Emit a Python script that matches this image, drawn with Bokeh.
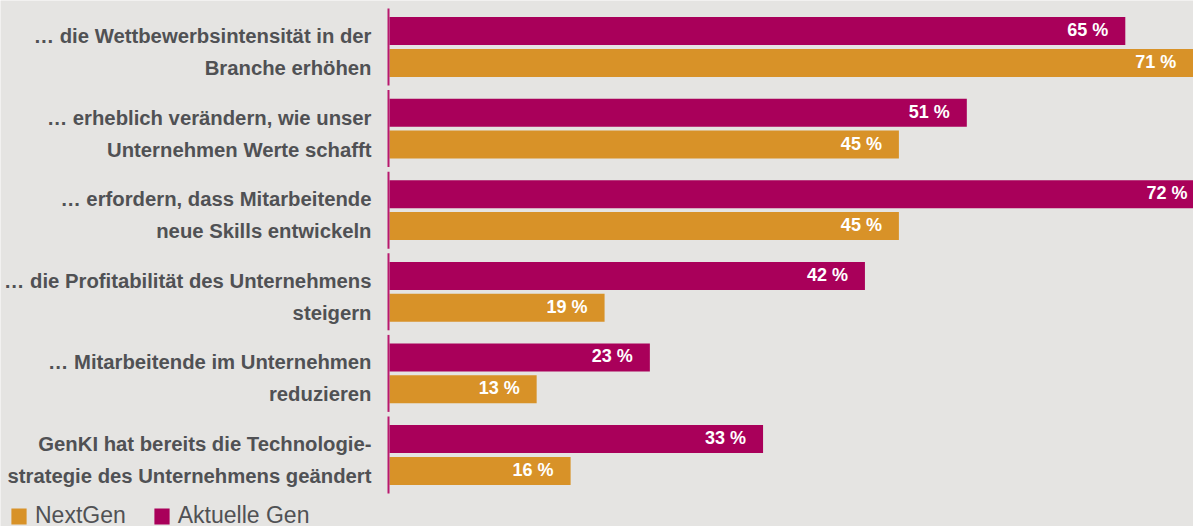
from bokeh.plotting import figure
from bokeh.models import Range1d, Legend, LegendItem, ColumnDataSource
from bokeh.core.properties import value
from bokeh.embed import file_html
from bokeh.resources import INLINE

categories = [
    "… die Wettbewerbsintensität in der\nBranche erhöhen",
    "… erheblich verändern, wie unser\nUnternehmen Werte schafft",
    "… erfordern, dass Mitarbeitende\nneue Skills entwickeln",
    "… die Profitabilität des Unternehmens\nsteigern",
    "… Mitarbeitende im Unternehmen\nreduzieren",
    "GenKI hat bereits die Technologie-\nstrategie des Unternehmens geändert",
]
aktuelle_gen = [65, 51, 72, 42, 23, 33]
next_gen = [71, 45, 45, 19, 13, 16]
series_names = ["NextGen", "Aktuelle Gen"]

BG = "#e5e4e2"
MAGENTA = "#a9005a"
ORANGE = "#d89228"
TEXT = "#505154"
FONT = "Liberation Sans"

W, H = 1193, 526
x0_px, px_per = 389.0, 11.32
group_px, group0_px = 81.6, 46.5

p = figure(width=W, height=H, output_backend="svg", toolbar_location=None,
           x_range=Range1d(-x0_px / px_per, (W - x0_px) / px_per),
           y_range=Range1d((H - group0_px) / group_px, -group0_px / group_px),
           min_border=0, min_border_left=0, min_border_right=0,
           min_border_top=0, min_border_bottom=0)
p.background_fill_color = BG
p.border_fill_color = BG
p.outline_line_color = None
p.xaxis.visible = False
p.yaxis.visible = False
p.xgrid.visible = False
p.ygrid.visible = False

n = len(categories)
idx = list(range(n))
off = 0.195
bar_h = 28 / group_px

src = ColumnDataSource(dict(
    y_a=[i - off for i in idx], y_n=[i + off for i in idx],
    a=aktuelle_gen, nx=next_gen,
    la=[f"{v} %" for v in aktuelle_gen], ln=[f"{v} %" for v in next_gen],
    l1=[c.split("\n")[0] for c in categories],
    l2=[c.split("\n")[1] for c in categories],
    seg_top=[i - 38.5 / group_px for i in idx],
    seg_bot=[i + 38.5 / group_px for i in idx],
    zero=[-1.0 / px_per for _ in idx],
))

r_a = p.hbar(y="y_a", right="a", left=0, height=bar_h, source=src,
             fill_color=MAGENTA, line_color=None)
r_n = p.hbar(y="y_n", right="nx", left=0, height=bar_h, source=src,
             fill_color=ORANGE, line_color=None)

p.segment(x0="zero", x1="zero", y0="seg_top", y1="seg_bot", source=src,
          line_color="#b8186e", line_width=2)

for col_y, col_x, col_t in (("y_a", "a", "la"), ("y_n", "nx", "ln")):
    p.text(x=col_x, y=col_y, text=col_t, source=src, x_offset=-17, y_offset=-1,
           text_align="right", text_baseline="alphabetic",
           text_font=value(FONT), text_font_style="bold",
           text_font_size="18px", text_color="white")

for col_y, col_t in (("y_a", "l1"), ("y_n", "l2")):
    p.text(x=0, y=col_y, text=col_t, source=src, x_offset=-18, y_offset=5,
           text_align="right", text_baseline="alphabetic",
           text_font=value(FONT), text_font_style="bold",
           text_font_size="20.3px", text_color=TEXT)

legend = Legend(items=[LegendItem(label=series_names[0], renderers=[r_n]),
                       LegendItem(label=series_names[1], renderers=[r_a])],
                orientation="horizontal", location=(9, -3),
                glyph_width=19, glyph_height=20, label_standoff=7, spacing=26,
                padding=0, margin=0, border_line_color=None,
                background_fill_alpha=0,
                label_text_font=FONT, label_text_font_size="23px",
                label_text_color=TEXT)
p.add_layout(legend, "center")

open("out.html", "w").write(file_html(p, INLINE))
